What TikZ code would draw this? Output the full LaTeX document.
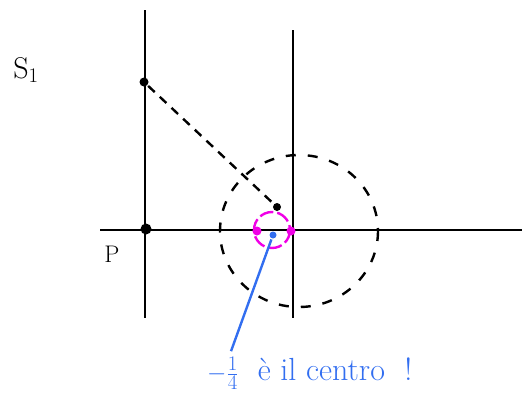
\documentclass[tikz,border=0pt]{standalone}
\usepackage{amsmath}
\usepackage{fontspec}
\usepackage{tikz}
\usepackage{xcolor}
\usetikzlibrary{calc,positioning}

\definecolor{penblue}{RGB}{50,110,240}
\definecolor{penpink}{RGB}{240,0,230}
\tikzset{
  pt/.style={circle,fill=black,inner sep=0pt,minimum size=9pt},
  pinkpt/.style={circle,fill=penpink,inner sep=0pt,minimum size=9pt},
  bluept/.style={circle,fill=penblue,inner sep=0pt,minimum size=7pt},
  lbl/.style={font=\fontsize{30}{32}\selectfont}
}

\begin{document}
\begin{tikzpicture}[x=1pt,y=-1pt,line width=2.4pt]
\useasboundingbox (0,0) rectangle (522,415);
% axes
\draw (145,10) -- (145,318);
\draw (293,30) -- (293,318);
\draw (100,230) -- (522,230);
% points
\node[pt] (s) at (144,82) {};
\node[pt,minimum size=11pt] (p) at (146,229) {};
\node[pt,minimum size=8pt] (q) at (277,207) {};
\node[lbl] (sl) at (26,70) {S$_1$};
\node[lbl,font=\fontsize{24}{26}\selectfont] (pl) at (112,254) {P};
\draw[dashed,dash pattern=on 9pt off 7pt] (s) -- (q);
\draw[dashed,dash pattern=on 10pt off 12pt] (299,231) ellipse (79 and 76);
% pink circle
\draw[penpink,dashed,dash pattern=on 14pt off 4pt] (272,230) circle (18);
\node[pinkpt] (m1) at (257,231) {};
\node[pinkpt] (m2) at (291,231) {};
% blue note
\node[bluept] (c) at (273,235) {};
\node[penblue,font=\fontsize{32}{36}\selectfont,anchor=north west,inner sep=2pt] (note) at (204,354) {$-\frac{1}{4}$\ \ è\ il\ centro\ \ !};
\draw[penblue,shorten >=3pt] (c) -- ([xshift=26pt]note.north west);
\end{tikzpicture}
\end{document}
